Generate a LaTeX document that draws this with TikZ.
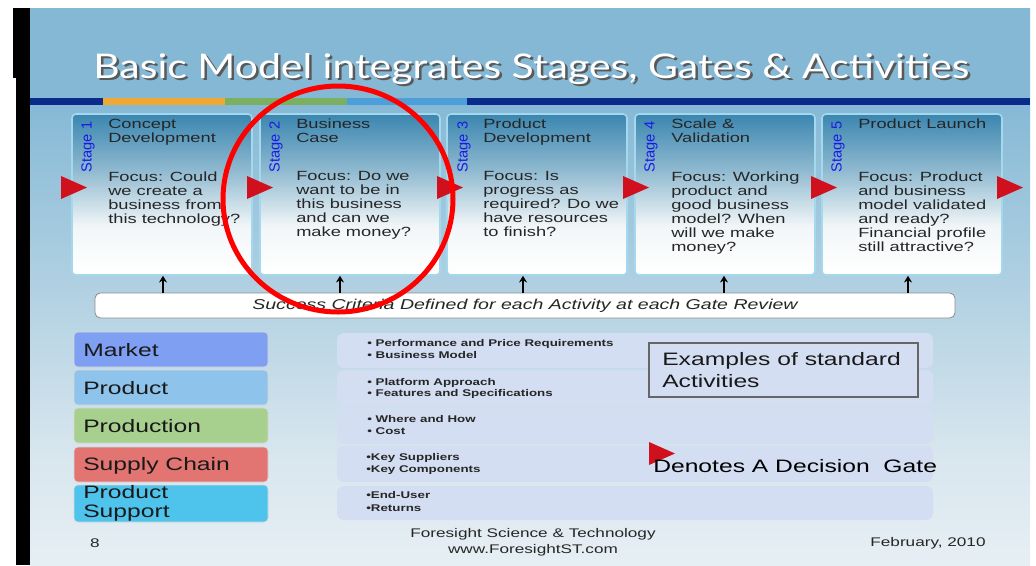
\documentclass[tikz,border=0pt]{standalone}
\usepackage{fontspec}
\setmainfont{Liberation Sans}[FakeStretch=1.37]
\newfontfamily\stagefont{Liberation Sans}
\newfontfamily\titlefont{Lato}
\usetikzlibrary{arrows.meta}
\definecolor{bgA}{HTML}{84B8D5}
\definecolor{bgB}{HTML}{9CC5DC}
\definecolor{bgC}{HTML}{B3D2E3}
\definecolor{bgD}{HTML}{D8E6EE}
\definecolor{bgE}{HTML}{E6EFF4}
\definecolor{stTop}{HTML}{3A86B0}
\definecolor{stMid}{HTML}{8DB8CF}
\definecolor{stLow}{HTML}{F2F6F8}
\definecolor{stBorder}{HTML}{A4D8EE}
\definecolor{navy}{HTML}{0B2B8C}
\definecolor{stripOr}{HTML}{EFA832}
\definecolor{stripGr}{HTML}{7BB062}
\definecolor{stripBl}{HTML}{4C9FD8}
\definecolor{gatered}{HTML}{D0101C}
\definecolor{stageblue}{HTML}{1A1AE6}
\definecolor{txt}{HTML}{262626}
\definecolor{cMarket}{HTML}{7E9FF2}
\definecolor{cProduct}{HTML}{8EC3EC}
\definecolor{cProduction}{HTML}{A7CF8D}
\definecolor{cSupply}{HTML}{E27472}
\definecolor{cSupport}{HTML}{4EC3EC}
\definecolor{band}{HTML}{D4DEF2}
\pgfdeclareverticalshading{slidebg}{100bp}{color(0bp)=(bgE); color(25bp)=(bgE); color(35bp)=(bgD); color(49bp)=(bgC); color(58bp)=(bgB); color(67bp)=(bgA); color(100bp)=(bgA)}
\pgfdeclareverticalshading{stagesh}{100bp}{color(0bp)=(white); color(25bp)=(white); color(40bp)=(stLow); color(58bp)=(stMid); color(75bp)=(stTop); color(100bp)=(stTop)}
\begin{document}
\begin{tikzpicture}[x=0.75pt,y=-0.75pt,
  stagebox/.style={shade, shading=stagesh, draw=stBorder, line width=1.2pt, rounded corners=3pt, minimum width=135pt, minimum height=120.75pt, inner sep=0pt},
  stagelabel/.style={rotate=90, inner sep=0pt, text=stageblue, font=\stagefont\fontsize{11}{11}\selectfont},
  stagetitle/.style={anchor=north west, inner sep=0pt, align=left, text=txt, font=\fontsize{10}{10.5}\selectfont},
  catbox/.style={rounded corners=3pt, minimum width=145.5pt, minimum height=26.25pt, inner sep=0pt, draw=white!85!black, line width=0.4pt},
  cattext/.style={anchor=base west, inner sep=0pt, text=black!90, font=\fontsize{13.5}{14}\selectfont},
  bandbox/.style={fill=band, rounded corners=5pt, minimum width=447pt, minimum height=27pt, inner sep=0pt},
  bullet/.style={anchor=base west, inner sep=0pt, text=txt, font=\bfseries\fontsize{7.3}{9}\selectfont},
  foot/.style={inner sep=0pt, text=txt, font=\fontsize{9.4}{11}\selectfont},
  uparr/.style={line width=1.5pt, -{Stealth[length=5pt,width=6pt]}},
  gatetri/.pic={\fill[gatered] (0,-11.5) -- (26,0) -- (0,11.5) -- cycle;}
]
\useasboundingbox (0,0) rectangle (1036,565);
\fill[white] (0,0) rectangle (1036,565);
\shade[shading=slidebg] (30,8) rectangle (1030,565);
\fill[black] (13,8) rectangle (30,78);
\fill[black] (16,78) rectangle (30,565);
% colour strip
\fill[navy] (30,98) rectangle (103,105);
\fill[stripOr] (103,98) rectangle (225,105);
\fill[stripGr] (225,98) rectangle (347,105);
\fill[stripBl] (347,98) rectangle (467,105);
\fill[navy] (467,98) rectangle (1030,105);
% title
\node[anchor=base west, inner sep=0pt, text=black!65] (titleshadow) at (95.5,80.5) {\resizebox{657pt}{18.75pt}{\titlefont Basic Model integrates Stages, Gates \& Activities}};
\node[anchor=base west, inner sep=0pt, text=white] (title) at (93,78) {\resizebox{657pt}{18.75pt}{\titlefont Basic Model integrates Stages, Gates \& Activities}};
% stage boxes
\node[stagebox] (s1) at (162,194.5) {};
\node[stagebox] (s2) at (350,194.5) {};
\node[stagebox] (s3) at (537,194.5) {};
\node[stagebox] (s4) at (725,194.5) {};
\node[stagebox] (s5) at (912,194.5) {};
% stage labels
\node[stagelabel] (l1) at (88,147) {Stage 1};
\node[stagelabel] (l2) at (276,147) {Stage 2};
\node[stagelabel] (l3) at (464,147) {Stage 3};
\node[stagelabel] (l4) at (651,147) {Stage 4};
\node[stagelabel] (l5) at (838,147) {Stage 5};
% stage titles
\node[stagetitle] (t1) at (108,118.5) {Concept\\Development};
\node[stagetitle] (t2) at (296,118.5) {Business\\Case};
\node[stagetitle] (t3) at (483,118.5) {Product\\Development};
\node[stagetitle] (t4) at (671,118.5) {Scale \&\\Validation};
\node[stagetitle] (t5) at (858,118.5) {Product Launch};
% focus texts
\node[stagetitle] (f1) at (108,171.5) {Focus: Could\\we create a\\business from\\this technology?};
\node[stagetitle] (f2) at (296,171.5) {Focus: Do we\\want to be in\\this business\\and can we\\make money?};
\node[stagetitle] (f3) at (483,171.5) {Focus: Is\\progress as\\required? Do we\\have resources\\to finish?};
\node[stagetitle] (f4) at (671,171.5) {Focus: Working\\product and\\good business\\model? When\\will we make\\money?};
\node[stagetitle] (f5) at (858,171.5) {Focus: Product\\and business\\model validated\\and ready?\\Financial profile\\still attractive?};
% gates
\path (61,187.5) pic {gatetri};
\path (247,187.5) pic {gatetri};
\path (437,187.5) pic {gatetri};
\path (623,187.5) pic {gatetri};
\path (811,187.5) pic {gatetri};
\path (997,187.5) pic {gatetri};
% success criteria bar
\node[fill=white, draw=black!45, line width=0.6pt, rounded corners=4pt, minimum width=645pt, minimum height=18.75pt, inner sep=0pt, text=txt, font=\itshape\fontsize{10.7}{12}\selectfont] (crit) at (525,305.5) {Success Criteria Defined for each Activity at each Gate Review};
\coordinate (a1) at (163,293);
\coordinate (a2) at (340,293);
\coordinate (a3) at (523,293);
\coordinate (a4) at (724,293);
\coordinate (a5) at (908,293);
\draw[uparr] (a1) -- (a1 |- s1.south);
\draw[uparr] (a2) -- (a2 |- s2.south);
\draw[uparr] (a3) -- (a3 |- s3.south);
\draw[uparr] (a4) -- (a4 |- s4.south);
\draw[uparr] (a5) -- (a5 |- s5.south);
% category boxes
\node[catbox, fill=cMarket] (cm) at (171,349.5) {};
\node[catbox, fill=cProduct] (cp) at (171,387.5) {};
\node[catbox, fill=cProduction] (cn) at (171,425.5) {};
\node[catbox, fill=cSupply] (cs) at (171,464.5) {};
\node[catbox, fill=cSupport, minimum height=27.75pt] (cu) at (171,503.5) {};
\node[cattext] (cmt) at (83,356) {Market};
\node[cattext] (cpt) at (83,394) {Product};
\node[cattext] (cnt) at (83,432) {Production};
\node[cattext] (cst) at (83,470) {Supply Chain};
\node[cattext] (cut1) at (83,498) {Product};
\node[cattext] (cut2) at (83,517) {Support};
% activity bands
\node[bandbox, minimum height=26.25pt] (r1) at (635,350.5) {};
\node[bandbox] (r2) at (635,388) {};
\node[bandbox] (r3) at (635,426) {};
\node[bandbox] (r4) at (635,464) {};
\node[bandbox, minimum height=25.5pt] (r5) at (635,503) {};
\node[bullet] (b1a) at (367,346) {• Performance and Price Requirements};
\node[bullet] (b1b) at (367,358) {• Business Model};
\node[bullet] (b2a) at (367,385) {• Platform Approach};
\node[bullet] (b2b) at (367,396) {• Features and Specifications};
\node[bullet] (b3a) at (367,422) {• Where and How};
\node[bullet] (b3b) at (367,434) {• Cost};
\node[bullet] (b4a) at (366,460) {•Key Suppliers};
\node[bullet] (b4b) at (366,472) {•Key Components};
\node[bullet] (b5a) at (366,498) {•End-User};
\node[bullet] (b5b) at (366,511) {•Returns};
% examples box
\node[fill=band, draw=black!60, line width=0.9pt, minimum width=201.75pt, minimum height=40.5pt, inner sep=0pt] (ex) at (783.5,370) {};
\node[anchor=base west, inner sep=0pt, text=black!90, font=\fontsize{13.5}{16.5}\selectfont] (ext) at (662,365) {Examples of standard};
\node[anchor=base west, inner sep=0pt, text=black!90, font=\fontsize{13.5}{16.5}\selectfont] (ext2) at (662,387) {Activities};
% decision gate legend
\path (649,453.5) pic {gatetri};
\node[anchor=base west, inner sep=0pt, text=black, font=\fontsize{13.5}{16}\selectfont] (dg) at (653,472) {Denotes A Decision~ Gate};
% footer
\node[foot] (pg) at (95,543) {8};
\node[foot] (org) at (533,534) {Foresight Science \& Technology};
\node[foot] (web) at (533,550) {www.ForesightST.com};
\node[foot] (date) at (928,543) {February, 2010};
% red annotation ellipse
\draw[red, line width=3.75pt] (338,199) ellipse [x radius=86.25pt, y radius=84.75pt];
\end{tikzpicture}
\end{document}
